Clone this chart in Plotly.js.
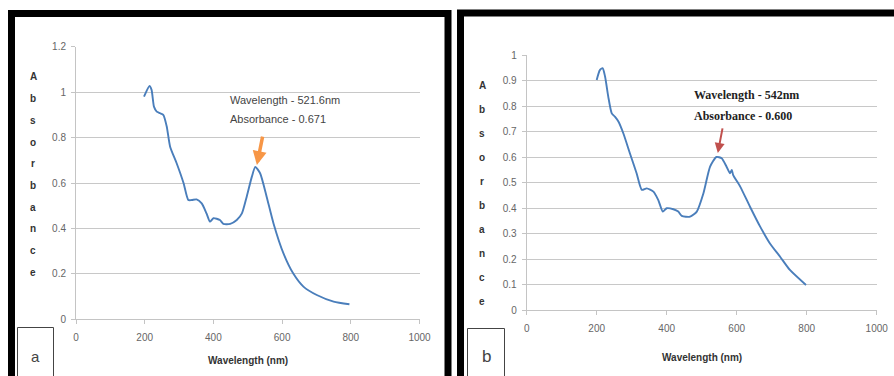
<!DOCTYPE html>
<html>
<head>
<meta charset="utf-8">
<script src="https://cdn.plot.ly/plotly-3.0.1.min.js"></script>
<style>html,body{margin:0;padding:0;background:#fff;}#chart{width:894px;height:376px;}</style>
</head>
<body>
<div id="chart"></div>
<script>
// ---- Data: panel (a) ----
const wavelengthA = [198, 214, 220, 227, 235, 245, 254, 264, 274, 293, 313, 327, 337, 351, 366, 380, 390, 400, 419, 429, 449, 468, 483, 497, 512, 522, 536, 555, 575, 604, 633, 662, 701, 750, 796];
const absorbanceA = [0.98, 1.027, 1.01, 0.936, 0.914, 0.907, 0.90, 0.85, 0.76, 0.687, 0.60, 0.525, 0.525, 0.528, 0.51, 0.466, 0.43, 0.445, 0.437, 0.42, 0.42, 0.437, 0.466, 0.54, 0.628, 0.671, 0.643, 0.54, 0.422, 0.29, 0.20, 0.144, 0.107, 0.078, 0.066];
// ---- Data: panel (b) ----
const wavelengthB = [200, 209, 217, 224, 233, 243, 252, 262, 276, 295, 314, 329, 343, 362, 376, 389, 400, 419, 433, 443, 467, 486, 505, 524, 542, 557, 571, 581, 586, 590, 610, 638, 667, 695, 724, 752, 798];
const absorbanceB = [0.902, 0.941, 0.948, 0.915, 0.837, 0.771, 0.758, 0.739, 0.693, 0.614, 0.536, 0.471, 0.477, 0.464, 0.431, 0.386, 0.399, 0.395, 0.386, 0.369, 0.366, 0.386, 0.458, 0.562, 0.600, 0.595, 0.562, 0.536, 0.549, 0.529, 0.484, 0.405, 0.327, 0.261, 0.209, 0.157, 0.098];
const xTicks = [0, 200, 400, 600, 800, 1000];
const yTicksA = [0, 0.2, 0.4, 0.6, 0.8, 1, 1.2];
const yTicksB = [0, 0.1, 0.2, 0.3, 0.4, 0.5, 0.6, 0.7, 0.8, 0.9, 1];
const yTitleLetters = ["A", "b", "s", "o", "r", "b", "a", "n", "c", "e"];
const xTitle = "Wavelength (nm)";
const peakA = {wl: 521.6, abs: 0.671};
const peakB = {wl: 542, abs: 0.600};
const panelLabels = ["a", "b"];

const W = 894, H = 376;
const px = x => x / W;
const py = y => 1 - y / H;

const lineColor = '#4A7EBB';
const traces = [
  {x: wavelengthA, y: absorbanceA, xaxis: 'x', yaxis: 'y', type: 'scatter', mode: 'lines',
   line: {color: lineColor, width: 1.9, shape: 'spline', smoothing: 0.6}, hoverinfo: 'skip'},
  {x: wavelengthB, y: absorbanceB, xaxis: 'x2', yaxis: 'y2', type: 'scatter', mode: 'lines',
   line: {color: lineColor, width: 1.9, shape: 'spline', smoothing: 0.6}, hoverinfo: 'skip'}
];

const tickFont = {family: 'Liberation Sans, Arial, sans-serif', size: 10, color: '#666'};
function xAxis(domain) {
  return {domain: domain, range: [0, 1000], tickvals: xTicks, showgrid: false, zeroline: false,
    showline: true, linecolor: '#c4c4c4', linewidth: 1, ticks: 'outside', ticklen: 4, tickcolor: '#c4c4c4',
    tickfont: tickFont, ticklabelstandoff: 5, fixedrange: true};
}
function yAxis(domain, range, ticks, anchor) {
  return {domain: domain, range: range, tickvals: ticks, showgrid: true, gridcolor: '#c8c8c8', gridwidth: 1,
    zeroline: false, showline: true, linecolor: '#c4c4c4', linewidth: 1, ticks: 'outside', ticklen: 4,
    tickcolor: '#c4c4c4', tickfont: tickFont, ticklabelstandoff: 3, anchor: anchor, fixedrange: true};
}

const layout = {
  width: W, height: H, margin: {l: 0, r: 0, t: 0, b: 0},
  paper_bgcolor: '#fff', plot_bgcolor: '#fff', showlegend: false,
  xaxis: Object.assign(xAxis([px(76), px(419.5)]), {anchor: 'y'}),
  yaxis: yAxis([py(319.3), py(46.7)], [0, 1.2], yTicksA, 'x'),
  xaxis2: Object.assign(xAxis([px(526.7), px(876.7)]), {anchor: 'y2'}),
  yaxis2: yAxis([py(310), py(55)], [0, 1], yTicksB, 'x2'),
  shapes: [
    // panel frames
    {type: 'rect', xref: 'paper', yref: 'paper', x0: px(11.5), x1: px(448), y0: py(13.5), y1: py(400),
     line: {color: '#000', width: 7}, fillcolor: 'rgba(0,0,0,0)', layer: 'above'},
    {type: 'rect', xref: 'paper', yref: 'paper', x0: px(460.5), x1: px(920), y0: py(13), y1: py(400),
     line: {color: '#000', width: 7}, fillcolor: 'rgba(0,0,0,0)', layer: 'above'},
    // panel label boxes
    {type: 'rect', xref: 'paper', yref: 'paper', x0: px(17.5), x1: px(53.5), y0: py(327.5), y1: py(390),
     line: {color: '#444', width: 1}, fillcolor: '#fff', layer: 'above'},
    {type: 'rect', xref: 'paper', yref: 'paper', x0: px(467.5), x1: px(504.5), y0: py(328.5), y1: py(390),
     line: {color: '#444', width: 1}, fillcolor: '#fff', layer: 'above'}
  ],
  annotations: []
};

const ann = layout.annotations;
const boldSmall = {family: 'Liberation Sans, Arial, sans-serif', size: 10, color: '#333', weight: 'bold'};
// vertical stacked y titles
yTitleLetters.forEach((ch, i) => {
  ann.push({xref: 'paper', yref: 'paper', x: px(33), y: py(77 + i * 21.7), text: ch, showarrow: false,
    xanchor: 'center', yanchor: 'middle', font: boldSmall});
  ann.push({xref: 'paper', yref: 'paper', x: px(482), y: py(85 + i * 24.1), text: ch, showarrow: false,
    xanchor: 'center', yanchor: 'middle', font: boldSmall});
});
// x titles
ann.push({xref: 'paper', yref: 'paper', x: px(247.7), y: py(360), text: xTitle, showarrow: false,
  xanchor: 'center', yanchor: 'middle', font: boldSmall});
ann.push({xref: 'paper', yref: 'paper', x: px(701.7), y: py(357), text: xTitle, showarrow: false,
  xanchor: 'center', yanchor: 'middle', font: boldSmall});
// peak texts
const sansAnn = {family: 'Liberation Sans, Arial, sans-serif', size: 11, color: '#444'};
const serifAnn = {family: 'Liberation Serif, Times New Roman, serif', size: 12, color: '#222', weight: 'bold'};
ann.push({xref: 'paper', yref: 'paper', x: px(228), y: py(100), text: 'Wavelength - ' + peakA.wl + 'nm', showarrow: false,
  xanchor: 'left', yanchor: 'middle', font: sansAnn});
ann.push({xref: 'paper', yref: 'paper', x: px(228), y: py(119), text: 'Absorbance - ' + peakA.abs.toFixed(3), showarrow: false,
  xanchor: 'left', yanchor: 'middle', font: sansAnn});
ann.push({xref: 'paper', yref: 'paper', x: px(692), y: py(95), text: 'Wavelength - ' + peakB.wl + 'nm', showarrow: false,
  xanchor: 'left', yanchor: 'middle', font: serifAnn});
ann.push({xref: 'paper', yref: 'paper', x: px(692), y: py(116), text: 'Absorbance - ' + peakB.abs.toFixed(3), showarrow: false,
  xanchor: 'left', yanchor: 'middle', font: serifAnn});
// arrows pointing at peaks
ann.push({xref: 'x', yref: 'y', x: peakA.wl + 5, y: peakA.abs + 0.008, text: '', showarrow: true,
  ax: 6, ay: -30, arrowhead: 2, arrowsize: 0.8, arrowwidth: 3.5, arrowcolor: '#F79646'});
ann.push({xref: 'x2', yref: 'y2', x: peakB.wl + 4, y: peakB.abs + 0.016, text: '', showarrow: true,
  ax: 5, ay: -26, arrowhead: 2, arrowsize: 1, arrowwidth: 2, arrowcolor: '#C0504D'});
// panel letters
ann.push({xref: 'paper', yref: 'paper', x: px(35.5), y: py(356), text: panelLabels[0], showarrow: false,
  xanchor: 'center', yanchor: 'middle', font: {family: 'Liberation Sans, Arial, sans-serif', size: 15, color: '#444'}});
ann.push({xref: 'paper', yref: 'paper', x: px(486), y: py(356), text: panelLabels[1], showarrow: false,
  xanchor: 'center', yanchor: 'middle', font: {family: 'Liberation Sans, Arial, sans-serif', size: 17, color: '#444'}});

Plotly.newPlot('chart', traces, layout, {staticPlot: true, displayModeBar: false});
</script>
</body>
</html>
